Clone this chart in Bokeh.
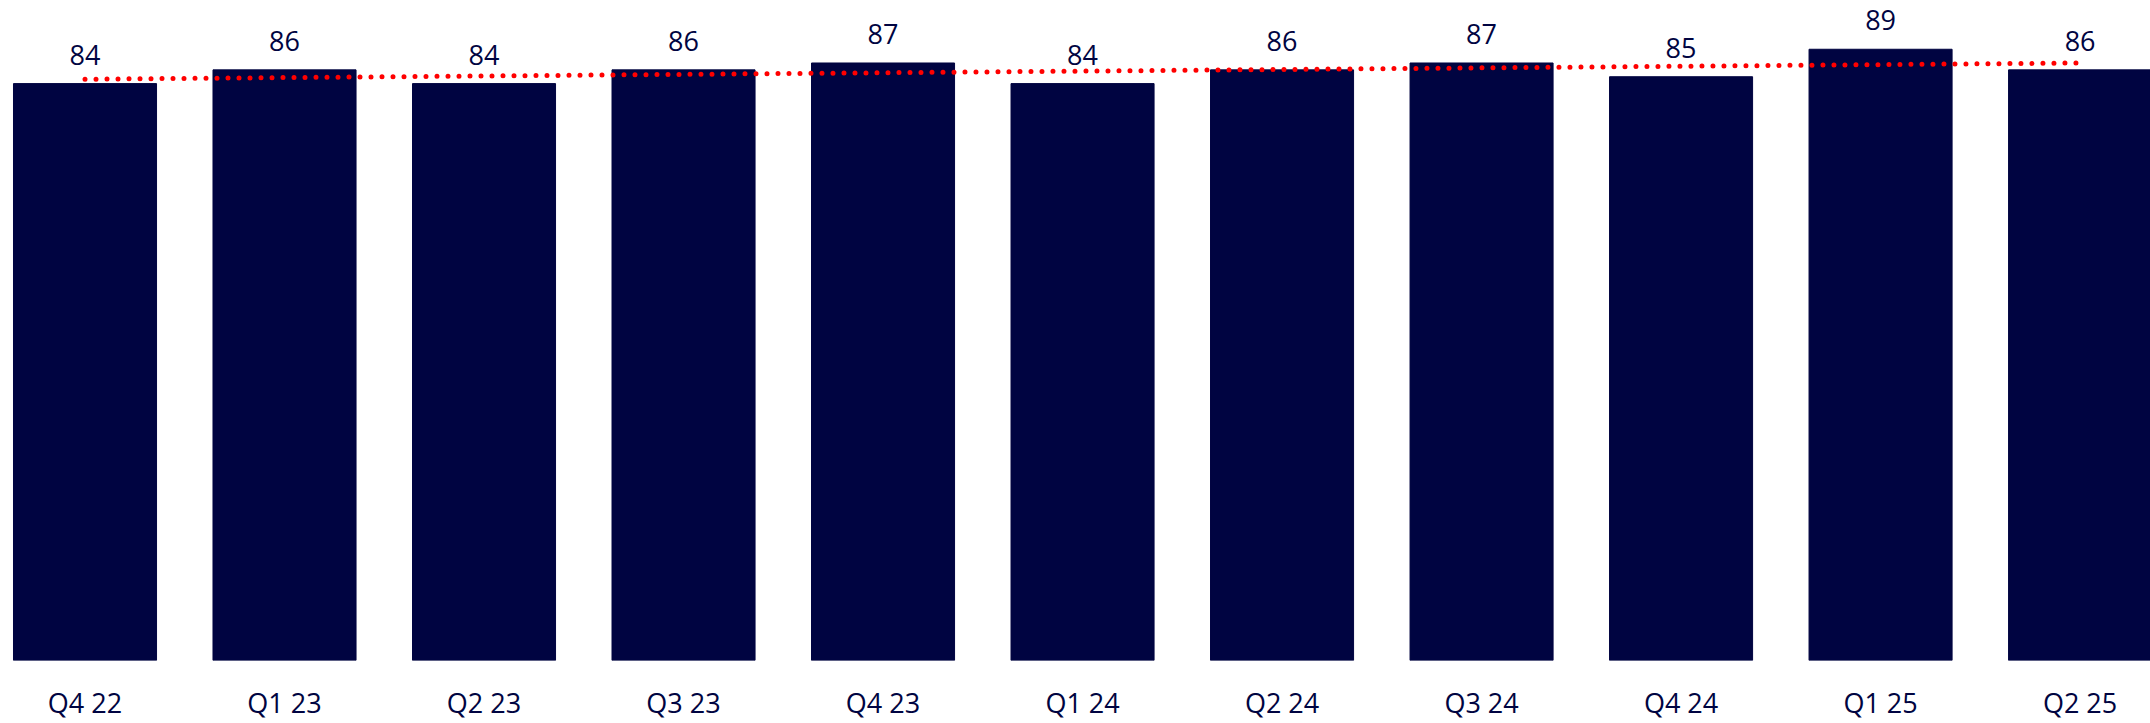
import numpy as np
from bokeh.plotting import figure
from bokeh.models import ColumnDataSource, Range1d, FixedTicker, LabelSet
from bokeh.core.properties import value
from bokeh.embed import file_html
from bokeh.resources import INLINE

# Quarterly scores
quarters = ["Q4 22", "Q1 23", "Q2 23", "Q3 23", "Q4 23", "Q1 24",
            "Q2 24", "Q3 24", "Q4 24", "Q1 25", "Q2 25"]
scores = [84, 86, 84, 86, 87, 84, 86, 87, 85, 89, 86]

NAVY = "#000441"
RED = "#FF0000"
FONT = "Open Sans"

idx = list(range(len(quarters)))
src = ColumnDataSource(dict(x=idx, top=scores, label=[str(v) for v in scores]))

p = figure(width=2150, height=723, output_backend="svg", toolbar_location=None,
           x_range=Range1d(-0.4236, 10.353), y_range=Range1d(0, 96.1),
           min_border_left=0, min_border_right=0, min_border_top=0,
           min_border_bottom=59, outline_line_color=None)

p.vbar(x="x", top="top", width=0.717, bottom=0, source=src,
       fill_color=NAVY, line_color=NAVY)

# least-squares trend over the quarterly scores
slope, intercept = np.polyfit(idx, scores, 1)
trend_x = [idx[0], idx[-1]]
trend_y = [intercept + slope * t for t in trend_x]
p.line(trend_x, trend_y, line_color=RED, line_width=5,
       line_dash="0 11", line_cap="round")

labels = LabelSet(x="x", y="top", text="label", source=src, y_offset=19,
                  text_align="center", text_baseline="alphabetic",
                  text_font=value(FONT), text_font_size=value("27px"),
                  text_color=NAVY)
p.add_layout(labels)

p.yaxis.visible = False
p.xgrid.visible = False
p.ygrid.visible = False
ax = p.xaxis[0]
ax.ticker = FixedTicker(ticks=idx)
ax.major_label_overrides = {i: q for i, q in enumerate(quarters)}
ax.axis_line_color = None
ax.major_tick_line_color = None
ax.minor_tick_line_color = None
ax.major_tick_in = 0
ax.major_tick_out = 0
ax.major_label_standoff = 23
ax.major_label_text_line_height = 1.0
ax.major_label_text_font = FONT
ax.major_label_text_font_size = "27px"
ax.major_label_text_color = NAVY

open("out.html", "w").write(file_html(p, INLINE))
